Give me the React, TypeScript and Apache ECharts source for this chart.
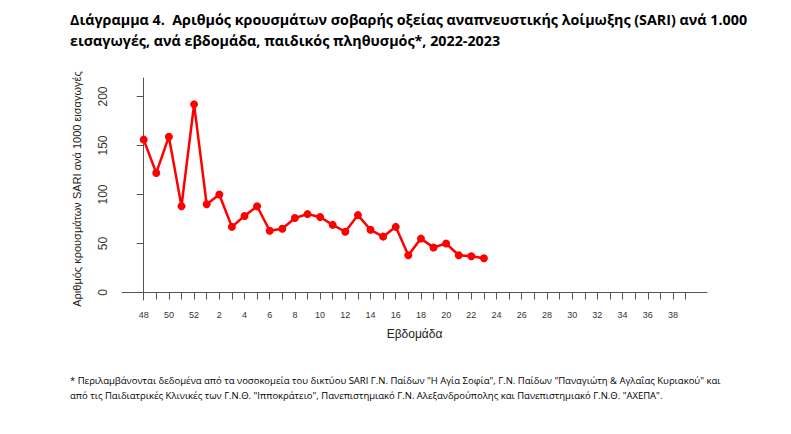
import React, { useEffect, useRef } from "react";
import * as echarts from "echarts";

const weeks: number[] = [48, 49, 50, 51, 52, 1, 2, 3, 4, 5, 6, 7, 8, 9, 10, 11, 12, 13, 14, 15, 16, 17, 18, 19, 20, 21, 22, 23, 24, 25, 26, 27, 28, 29, 30, 31, 32, 33, 34, 35, 36, 37, 38, 39];
const sariRate: number[] = [156, 122, 159, 88, 192, 90, 100, 67, 78, 88, 63, 65, 76, 80, 77, 69, 62, 79, 64, 57, 67, 38, 55, 46, 50, 38, 37, 35];
const yTicks: number[] = [0, 50, 100, 150, 200];

const titleLines = [
  "Διάγραμμα 4.  Αριθμός κρουσμάτων σοβαρής οξείας αναπνευστικής λοίμωξης (SARI) ανά 1.000",
  "εισαγωγές, ανά εβδομάδα, παιδικός πληθυσμός*, 2022-2023",
];
const footLines = [
  '* Περιλαμβάνονται δεδομένα από τα νοσοκομεία του δικτύου SARI Γ.Ν. Παίδων "Η Αγία Σοφία", Γ.Ν. Παίδων "Παναγιώτη & Αγλαΐας Κυριακού" και',
  'από τις Παιδιατρικές Κλινικές των Γ.Ν.Θ. "Ιπποκράτειο", Πανεπιστημιακό Γ.Ν. Αλεξανδρούπολης και Πανεπιστημιακό Γ.Ν.Θ. "ΑΧΕΠΑ".',
];
const yName = "Αριθμός κρουσμάτων SARI ανά 1000 εισαγωγές";
const xName = "Εβδομάδα";

export default function App() {
  const ref = useRef<HTMLDivElement>(null);
  useEffect(() => {
    if (!ref.current) return;
    const chart = echarts.init(ref.current, null, { renderer: "svg" });
    const idx = weeks.map((_, i) => i);
    const data = sariRate.map((v, i) => [i, v]);
    const axisFont = "'Liberation Sans', Arial, sans-serif";
    const textFont = "'Open Sans', 'Noto Sans', sans-serif";
    chart.setOption({
      animation: false,
      backgroundColor: "#ffffff",
      grid: { left: 122, right: 84, top: 78, bottom: 134, containLabel: false },
      xAxis: {
        type: "value",
        min: -1.72,
        max: 44.7,
        name: xName,
        nameLocation: "middle",
        nameGap: 28,
        nameTextStyle: { fontFamily: axisFont, fontSize: 12, color: "#222" },
        splitLine: { show: false },
        axisLine: { show: true, lineStyle: { color: "#555", width: 1 } },
        axisTick: { show: true, customValues: idx, length: 7, lineStyle: { color: "#555" } },
        axisLabel: {
          customValues: idx.filter((i) => i % 2 === 0),
          formatter: (v: number) => String(weeks[Math.round(v)]),
          fontFamily: axisFont,
          fontSize: 9,
          color: "#333",
          margin: 10,
        },
      },
      yAxis: {
        type: "value",
        min: -7.65,
        max: 218.9,
        name: yName,
        nameLocation: "middle",
        nameGap: 40,
        nameTextStyle: { fontFamily: axisFont, fontSize: 11, color: "#222" },
        splitLine: { show: false },
        axisLine: { show: true, lineStyle: { color: "#555", width: 1 } },
        axisTick: { show: true, customValues: yTicks, length: 7, lineStyle: { color: "#555" } },
        axisLabel: {
          customValues: yTicks,
          rotate: 90,
          fontFamily: axisFont,
          fontSize: 12,
          color: "#333",
          margin: 13,
        },
      },
      series: [
        {
          type: "line",
          data,
          symbol: "circle",
          symbolSize: 8,
          lineStyle: { color: "#ff0000", width: 2.5 },
          itemStyle: { color: "#ff0000" },
        },
      ],
      graphic: [
        ...titleLines.map((t, i) => ({
          type: "text",
          left: 70,
          top: 12 + i * 21,
          style: { text: t, font: `bold 14.3px ${textFont}`, fill: "#000" },
        })),
        ...footLines.map((t, i) => ({
          type: "text",
          left: 70,
          top: 375 + i * 15,
          style: { text: t, font: `9.5px ${textFont}`, fill: "#000" },
        })),
      ],
    });
    return () => chart.dispose();
  }, []);
  return (
    <div
      ref={ref}
      style={{ position: "fixed", left: 0, top: 0, width: 791, height: 434, background: "#fff" }}
    />
  );
}
